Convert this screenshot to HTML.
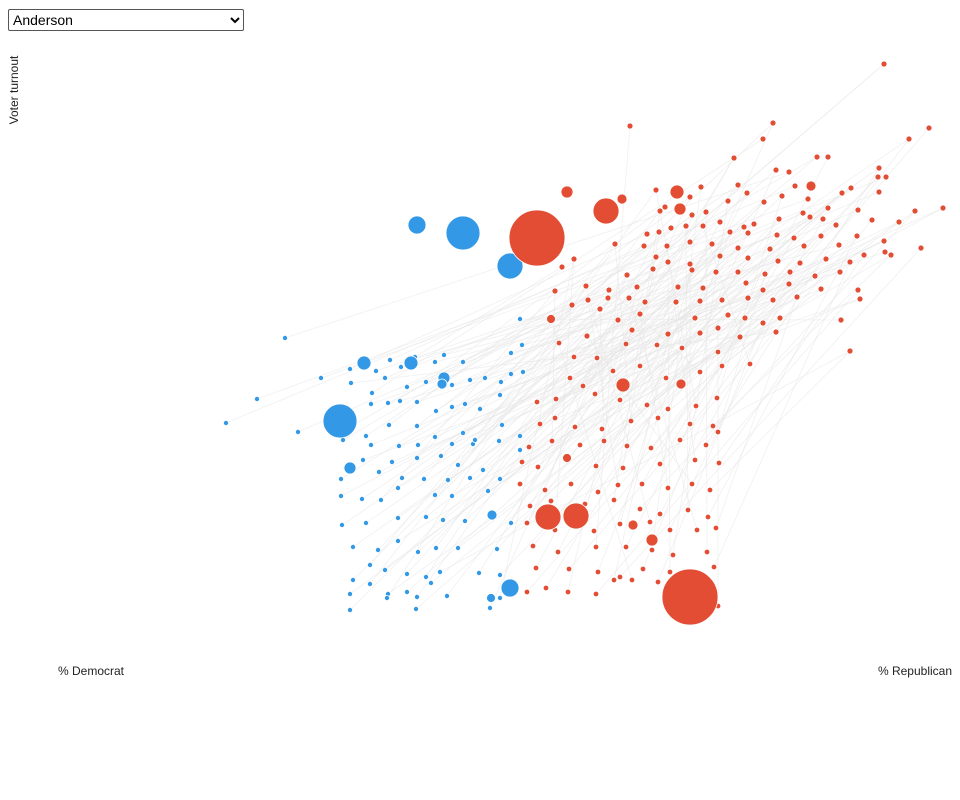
<!DOCTYPE html>
<html><head><meta charset="utf-8">
<style>
body{margin:0;background:#fff;font-family:"Liberation Sans",sans-serif;}
#wrap{position:relative;width:960px;height:800px;overflow:hidden;}
select{position:absolute;left:8px;top:9px;width:236px;height:22px;font:14px "Liberation Sans",sans-serif;border:1px solid #555;border-radius:2px;background:#fff;}
</style></head><body>
<div id="wrap">
<select><option>Anderson</option></select>
<svg id="chart" width="960" height="800" style="position:absolute;left:0;top:0;">
<g id="links"></g>
<g id="dots"></g>
<text x="18" y="90" transform="rotate(-90 18 90)" text-anchor="middle" font-size="12" fill="#222">Voter turnout</text>
<text x="58" y="675" font-size="12" fill="#222">% Democrat</text>
<text x="952" y="675" font-size="12" fill="#222" text-anchor="end">% Republican</text>
</svg>
</div>
<script>
const upperRed=[[88.4,63.6],[63.0,57.4],[77.3,57.7],[92.9,57.2],[90.9,56.1],[76.3,56.1],[73.4,54.2],[81.7,54.3],[82.8,54.3],[77.6,53.0],[78.9,52.8],[87.9,53.2],[88.6,52.3],[87.8,52.3],[73.8,51.5],[70.1,51.3],[65.6,51.0],[79.5,51.4],[85.1,51.2],[87.9,50.8],[74.7,50.7],[69.0,50.3],[72.8,49.9],[78.2,50.4],[80.8,50.1],[84.2,50.7],[66.5,49.3],[66.0,48.9],[69.2,48.5],[70.6,48.8],[76.4,49.8],[80.3,48.7],[82.8,49.2],[85.8,49.0],[91.5,48.9],[94.3,49.2],[72.0,47.8],[74.4,47.3],[75.4,47.6],[77.9,48.1],[81.0,48.3],[82.3,48.1],[83.6,47.5],[87.2,48.0],[89.9,47.8],[64.7,46.6],[65.9,46.8],[67.1,47.2],[68.6,47.4],[70.3,47.4],[73.0,46.8],[74.8,46.7],[77.7,46.5],[79.4,46.2],[82.1,46.4],[85.7,46.4],[88.4,45.9],[92.1,45.2],[61.5,45.6],[64.4,45.4],[66.7,45.4],[69.0,45.8],[71.2,45.6],[73.8,45.2],[77.0,45.1],[80.4,45.4],[83.9,45.5],[86.4,44.5],[88.5,44.8],[57.4,44.1],[65.6,44.3],[66.8,43.8],[69.0,43.6],[72.0,44.4],[74.8,44.2],[77.8,43.9],[80.0,43.7],[82.6,44.1],[85.0,43.8],[89.1,44.5],[56.2,43.3],[62.7,42.5],[65.3,43.1],[69.2,43.0],[71.6,42.8],[73.8,42.8],[76.5,42.6],[79.0,42.8],[81.5,42.4],[84.0,42.8],[58.6,41.4],[60.9,41.0],[63.7,41.3],[67.8,41.3],[70.3,41.2],[74.6,41.7],[76.3,41.0],[78.9,41.6],[82.1,41.1],[85.8,41.0],[55.5,40.9],[57.2,39.5],[58.8,40.0],[60.8,40.2],[62.9,40.2],[64.5,39.8],[67.6,39.8],[70.0,39.9],[72.2,40.0],[74.8,40.2],[77.3,40.0],[79.7,40.3],[86.0,40.1],[55.1,38.1],[60.0,39.1],[61.8,38.0],[64.0,38.6],[69.5,38.2],[72.8,38.5],[74.5,38.2],[76.3,37.7],[78.0,38.2],[84.1,38.0],[58.7,36.4],[63.2,37.0],[66.8,36.6],[70.0,36.7],[71.8,37.2],[74.0,36.3],[77.6,36.8],[85.0,34.9]];
const lowerRed=[[55.9,35.7],[57.4,34.3],[59.7,34.2],[62.6,35.6],[65.7,35.5],[68.2,35.2],[71.8,34.8],[75.0,33.6],[57.0,32.2],[58.3,31.4],[61.3,32.9],[64.0,33.4],[66.6,32.2],[70.0,32.8],[72.2,33.4],[53.7,29.8],[55.6,30.1],[59.5,30.6],[62.0,30.0],[64.7,29.5],[66.8,29.1],[69.6,29.4],[71.7,30.2],[54.0,27.6],[55.5,28.2],[57.5,27.3],[60.2,27.1],[63.1,27.9],[65.8,28.2],[69.0,27.6],[71.3,27.4],[71.8,26.8],[52.9,25.3],[55.2,25.9],[58.0,25.5],[60.4,25.9],[62.7,25.4],[65.1,25.2],[68.0,26.0],[70.6,25.5],[52.2,23.8],[53.8,23.3],[56.7,24.2],[59.6,23.4],[62.3,23.2],[66.0,23.6],[69.5,24.0],[71.9,23.7],[52.0,21.6],[54.5,21.0],[57.1,21.6],[59.8,20.8],[61.8,21.5],[64.2,21.6],[66.8,21.2],[69.2,21.6],[71.0,21.0],[53.0,19.4],[55.1,19.9],[58.5,19.6],[61.4,20.0],[64.0,19.1],[66.0,18.6],[68.8,19.0],[70.8,18.3],[52.7,17.7],[55.5,17.0],[59.4,16.9],[62.0,17.6],[65.0,17.8],[67.0,17.0],[69.7,17.0],[71.6,17.2],[53.3,15.4],[55.8,14.8],[59.6,15.3],[62.6,15.3],[65.2,15.0],[67.3,14.5],[70.7,14.8],[53.6,13.2],[56.9,13.1],[59.8,12.8],[62.0,12.3],[64.3,13.1],[67.0,12.8],[71.4,13.3],[54.6,11.2],[56.8,10.8],[59.6,10.6],[61.4,12.0],[63.2,12.0],[65.8,11.8],[71.8,9.4],[52.7,10.8]];
const bluePts=[[28.5,36.2],[22.6,27.7],[25.7,30.1],[29.8,26.8],[32.1,32.2],[35.0,33.1],[37.6,32.9],[39.0,34.0],[40.6,33.9],[40.1,33.3],[41.5,34.3],[43.5,33.8],[44.4,34.5],[46.3,33.8],[51.1,34.7],[52.2,35.5],[52.0,38.1],[35.1,31.7],[37.2,30.7],[38.5,32.2],[40.7,31.3],[42.6,31.8],[45.2,31.5],[47.0,32.0],[48.5,32.2],[50.1,31.8],[51.1,32.6],[52.3,32.8],[37.1,29.6],[38.8,29.7],[40.0,29.9],[41.7,29.8],[43.6,28.9],[45.2,29.3],[46.5,29.6],[48.0,29.1],[50.0,30.5],[35.0,27.3],[36.6,26.4],[38.9,27.5],[41.7,27.4],[43.5,26.3],[46.3,26.7],[47.3,25.6],[50.2,27.5],[52.0,26.4],[34.3,26.0],[37.1,25.5],[39.9,25.4],[41.8,25.5],[45.2,25.6],[47.5,26.0],[49.9,25.9],[36.3,24.0],[39.2,23.8],[41.7,24.2],[44.1,24.4],[45.8,23.5],[48.3,23.0],[52.0,25.0],[34.1,22.1],[37.9,22.8],[40.2,22.2],[42.4,22.1],[44.8,22.0],[47.0,22.2],[50.0,22.1],[34.1,20.4],[36.2,20.1],[38.1,20.0],[39.8,21.2],[43.5,20.5],[45.2,20.4],[48.8,20.9],[34.2,17.5],[36.6,17.7],[39.8,18.2],[42.6,18.3],[44.3,18.0],[46.5,17.9],[51.1,17.7],[35.3,15.3],[37.8,15.0],[39.8,15.9],[41.8,14.8],[43.6,15.2],[45.8,15.2],[49.7,15.1],[37.0,13.5],[38.5,13.0],[40.7,12.6],[42.6,12.3],[44.0,12.8],[47.9,12.7],[50.0,12.5],[35.3,12.0],[37.0,11.6],[38.8,10.6],[40.7,10.8],[41.7,10.3],[43.1,11.7],[44.7,10.4],[50.0,10.2],[35.0,10.6],[35.0,9.0],[38.7,10.2],[41.6,9.1],[49.0,9.2]];
const bigRed=[[53.7,46.2,784],[69.0,10.3,784],[60.6,48.9,169],[54.8,18.3,169],[57.6,18.4,169],[56.7,50.8,36],[67.7,50.8,49],[68.0,49.1,36],[62.3,31.5,49],[65.2,16.0,36],[68.1,31.6,25],[62.2,50.1,25],[63.3,17.5,25],[81.1,51.4,25],[55.1,38.1,20],[56.7,24.2,20]];
const bigBlue=[[46.3,46.7,289],[34.0,27.9,289],[51.0,43.4,169],[41.7,47.5,81],[51.0,11.2,81],[36.4,33.7,49],[41.1,33.7,49],[44.4,32.2,36],[35.0,23.2,36],[49.2,18.5,25],[49.1,10.2,20],[44.2,31.6,25]];
const RED='#e34d34',BLUE='#3399e6';
const xS=v=>v*10, yS=v=>700-v*10, rS=p=>Math.sqrt(p);
const NS='http://www.w3.org/2000/svg';
const links=document.getElementById('links'),dots=document.getElementById('dots');
const lowerAll=lowerRed.concat(bluePts);
lowerAll.forEach((p,i)=>{const q=upperRed[(i*7)%upperRed.length];
 const l=document.createElementNS(NS,'line');
 
 
 l.setAttribute('x1',xS(p[0]));l.setAttribute('y1',yS(p[1]));l.setAttribute('x2',xS(q[0]));l.setAttribute('y2',yS(q[1]));
 l.setAttribute('stroke','#e6e6e6');l.setAttribute('stroke-width','0.8');l.setAttribute('opacity','0.6');links.appendChild(l);});
function dot(p,r,c,name){const e=document.createElementNS(NS,'circle');
 
 
 e.setAttribute('cx',xS(p[0]));e.setAttribute('cy',yS(p[1]));e.setAttribute('r',r);e.setAttribute('fill',c);e.setAttribute('stroke','#fff');e.setAttribute('stroke-width','0.8');dots.appendChild(e);}
upperRed.forEach(p=>dot(p,3,RED,'county-dot-republican'));
lowerRed.forEach(p=>dot(p,2.8,RED,'county-dot-republican'));
bluePts.forEach(p=>dot(p,2.6,BLUE,'county-dot-democrat'));
bigBlue.forEach(p=>dot(p,rS(p[2]),BLUE,'county-dot-democrat-large'));
bigRed.forEach(p=>dot(p,rS(p[2]),RED,'county-dot-republican-large'));
</script>
</body></html>
